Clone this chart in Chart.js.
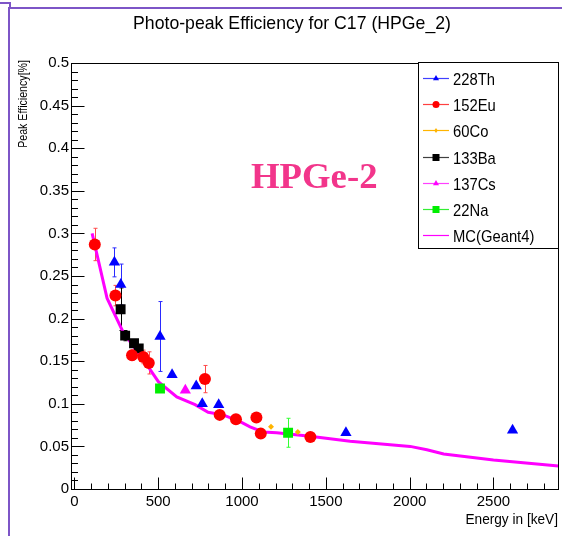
<!DOCTYPE html>
<html>
<head>
<meta charset="utf-8">
<script src="https://cdn.jsdelivr.net/npm/chart.js@4/dist/chart.umd.min.js"></script>
<style>
html, body { margin: 0; padding: 0; background: #fff; }
canvas { display: block; }
</style>
</head>
<body>
<canvas id="effCanvas" width="562" height="536"></canvas>
<script>
// 228Th
const thEnergy = [239, 277, 511, 583, 727, 763, 861, 1620, 2614];
const thEff = [0.266, 0.240, 0.179, 0.134, 0.121, 0.100, 0.099, 0.066, 0.069];
const thErr = [0.017, 0.024, 0.041, 0, 0, 0, 0, 0, 0];

// 152Eu
const euEnergy = [122, 245, 344, 411, 444, 779, 867, 964, 1086, 1112, 1408];
const euEff = [0.287, 0.227, 0.157, 0.155, 0.148, 0.129, 0.087, 0.082, 0.084, 0.065, 0.061];
const euErr = [0.019, 0.012, 0.006, 0.008, 0.013, 0.016, 0.004, 0.003, 0.003, 0.003, 0.003];

// 60Co
const coEnergy = [1173, 1333];
const coEff = [0.073, 0.067];

// 133Ba
const baEnergy = [276, 303, 356, 384];
const baEff = [0.211, 0.180, 0.171, 0.165];
const baErr = [0.025, 0.006, 0.004, 0.004];

// 137Cs
const csEnergy = [662];
const csEff = [0.116];

// 22Na
const naEnergy = [511, 1275];
const naEff = [0.118, 0.066];
const naErr = [0.003, 0.017];

// MC (Geant4)
const mcEnergy = [106, 195, 289, 361, 432, 501, 611, 720, 798, 887, 989, 1048, 1126, 1207, 1406, 1645, 2003, 2103, 2203, 2500, 2888];
const mcEff = [0.300, 0.224, 0.185, 0.165, 0.146, 0.126, 0.108, 0.099, 0.090, 0.087, 0.079, 0.073, 0.067, 0.066, 0.062, 0.056, 0.050, 0.046, 0.041, 0.034, 0.027];

// 目盛り
const xTicks = [0, 500, 1000, 1500, 2000, 2500];
const yTicks = [0, 0.05, 0.1, 0.15, 0.2, 0.25, 0.3, 0.35, 0.4, 0.45, 0.5];

const toPoints = (xs, ys) => xs.map((x, i) => ({ x: x, y: ys[i] }));

const series = [
  { label: '228Th', xs: thEnergy, ys: thEff, err: thErr, style: 'triangle', r: 6.5, color: '#0000ff', bar: '#2a2aff', line: '#4040ff' },
  { label: '152Eu', xs: euEnergy, ys: euEff, err: euErr, style: 'circle', r: 6, color: '#ff0000', bar: '#ff4a4a', line: '#ff4040' },
  { label: '60Co', xs: coEnergy, ys: coEff, err: null, style: 'rectRot', r: 3, color: '#ffb400', bar: '#ffb400', line: '#ffb400' },
  { label: '133Ba', xs: baEnergy, ys: baEff, err: baErr, style: 'rect', r: 7, color: '#000000', bar: '#000000', line: '#404040' },
  { label: '137Cs', xs: csEnergy, ys: csEff, err: null, style: 'triangle', r: 6.5, color: '#ff00ff', bar: '#ff00ff', line: '#ff40ff' },
  { label: '22Na', xs: naEnergy, ys: naEff, err: naErr, style: 'rect', r: 7, color: '#00ee00', bar: '#33ff33', line: '#33ee33' }
];

const datasets = series.map(s => ({
  label: s.label,
  data: toPoints(s.xs, s.ys),
  pointStyle: s.style,
  pointRadius: s.r,
  pointBackgroundColor: s.color,
  pointBorderColor: s.color,
  pointBorderWidth: 0,
  showLine: false,
  order: 1
}));

datasets.push({
  label: 'MC(Geant4)',
  data: toPoints(mcEnergy, mcEff),
  showLine: true,
  borderColor: '#ff00ff',
  borderWidth: 3,
  pointRadius: 0,
  tension: 0,
  order: 5
});

// 横方向に少し詰めた文字
function drawText(ctx, str, x, y, font, align, sx, color) {
  ctx.save();
  ctx.translate(x, y);
  ctx.scale(sx, 1);
  ctx.font = font;
  ctx.textAlign = align;
  ctx.textBaseline = 'alphabetic';
  ctx.fillStyle = color || '#000';
  ctx.fillText(str, 0, 0);
  ctx.restore();
}

function drawMarker(ctx, style, x, y, r, color) {
  ctx.save();
  ctx.fillStyle = color;
  ctx.beginPath();
  if (style === 'circle') {
    ctx.arc(x, y, r, 0, Math.PI * 2);
  } else if (style === 'triangle') {
    ctx.moveTo(x, y - r);
    ctx.lineTo(x + r * 0.866, y + r * 0.5);
    ctx.lineTo(x - r * 0.866, y + r * 0.5);
    ctx.closePath();
  } else if (style === 'rect') {
    ctx.rect(x - r, y - r, 2 * r, 2 * r);
  } else if (style === 'rectRot') {
    ctx.moveTo(x, y - r);
    ctx.lineTo(x + r * 0.7, y);
    ctx.lineTo(x, y + r);
    ctx.lineTo(x - r * 0.7, y);
    ctx.closePath();
  }
  ctx.fill();
  ctx.restore();
}

const errorBars = {
  id: 'errorBars',
  beforeDatasetsDraw(chart) {
    const ctx = chart.ctx;
    const xs = chart.scales.x, ys = chart.scales.y;
    ctx.save();
    ctx.lineWidth = 1;
    series.forEach(s => {
      if (!s.err) return;
      ctx.strokeStyle = s.bar;
      s.xs.forEach((e, i) => {
        if (!s.err[i]) return;
        const px = Math.round(xs.getPixelForValue(e)) + 0.5;
        const top = ys.getPixelForValue(s.ys[i] + s.err[i]);
        const bot = ys.getPixelForValue(s.ys[i] - s.err[i]);
        ctx.beginPath();
        ctx.moveTo(px, top); ctx.lineTo(px, bot);
        ctx.moveTo(px - 2, top); ctx.lineTo(px + 2, top);
        ctx.moveTo(px - 2, bot); ctx.lineTo(px + 2, bot);
        ctx.stroke();
      });
    });
    ctx.restore();
  }
};

const frameAndText = {
  id: 'frameAndText',
  afterDraw(chart) {
    const ctx = chart.ctx;
    const a = chart.chartArea;
    const xs = chart.scales.x, ys = chart.scales.y;
    ctx.save();

    // 枠
    ctx.strokeStyle = '#000';
    ctx.lineWidth = 1;
    const l = Math.round(a.left) + 0.5, r = Math.round(a.right) - 0.5;
    const t = Math.round(a.top) + 0.5, b = Math.round(a.bottom) + 0.5;
    ctx.strokeRect(l, t, r - l, b - t);

    // 内向きの目盛り
    ctx.beginPath();
    for (let v = 0; v <= 0.5001; v += 0.01) {
      const py = Math.round(ys.getPixelForValue(v)) + 0.5;
      const major = Math.abs(v / 0.05 - Math.round(v / 0.05)) < 1e-6;
      ctx.moveTo(l, py);
      ctx.lineTo(l + (major ? 13 : 6.5), py);
    }
    for (let v = 0; v <= 2888; v += 100) {
      const px = Math.round(xs.getPixelForValue(v)) + 0.5;
      const major = v % 500 === 0;
      ctx.moveTo(px, b);
      ctx.lineTo(px, b - (major ? 12 : 6));
    }
    ctx.stroke();

    // 紫の枠
    ctx.strokeStyle = '#7d55c7';
    ctx.lineWidth = 2;
    ctx.beginPath();
    ctx.moveTo(9, 536); ctx.lineTo(9, 8); ctx.lineTo(562, 8);
    ctx.moveTo(0, 3); ctx.lineTo(10, 3); ctx.lineTo(10, 8);
    ctx.stroke();

    // タイトル
    drawText(ctx, 'Photo-peak Efficiency for C17 (HPGe_2)', 292, 29, '19px "Liberation Sans", Arial, sans-serif', 'center', 0.93);

    // 軸タイトル
    drawText(ctx, 'Energy in [keV]', 558, 524, '15px "Liberation Sans", Arial, sans-serif', 'right', 0.91);
    ctx.save();
    ctx.translate(27, 60);
    ctx.rotate(-Math.PI / 2);
    drawText(ctx, 'Peak Efficiency[%]', 0, 0, '12.5px "Liberation Sans", Arial, sans-serif', 'right', 0.85);
    ctx.restore();

    // 注記
    drawText(ctx, 'HPGe-2', 251, 188, 'bold 35px "Liberation Serif", "Times New Roman", serif', 'left', 1.05, '#f2358b');

    // 凡例
    const lx = 418, ly = 62, lw = 140, lh = 186;
    ctx.fillStyle = '#fff';
    ctx.fillRect(lx, ly, lw, lh);
    ctx.strokeStyle = '#000';
    ctx.lineWidth = 1;
    ctx.strokeRect(lx + 0.5, ly + 0.5, lw, lh);
    const rows = series.map(s => ({ label: s.label, line: s.line, style: s.style, color: s.color, r: s.style === 'rectRot' ? 2.5 : 3.5 }));
    rows.push({ label: 'MC(Geant4)', line: '#ff00ff', style: null });
    rows.forEach((row, i) => {
      const yc = Math.round(78 + i * 26.2) + 0.5;
      ctx.strokeStyle = row.line;
      ctx.lineWidth = 1.2;
      ctx.beginPath();
      ctx.moveTo(423, yc);
      ctx.lineTo(449, yc);
      ctx.stroke();
      if (row.style) drawMarker(ctx, row.style, 436, yc, row.r, row.color);
      drawText(ctx, row.label, 453, yc + 6, '17px "Liberation Sans", Arial, sans-serif', 'left', 0.87);
    });

    ctx.restore();
  }
};

new Chart(document.getElementById('effCanvas'), {
  type: 'scatter',
  data: { datasets: datasets },
  options: {
    responsive: false,
    animation: false,
    layout: { autoPadding: false, padding: { top: 63, right: 3.5, left: 0, bottom: 0 } },
    plugins: {
      legend: { display: false },
      title: { display: false },
      tooltip: { enabled: false }
    },
    scales: {
      x: {
        type: 'linear',
        min: -20,
        max: 2888,
        grid: { display: false, drawTicks: false },
        border: { display: false },
        afterBuildTicks: s => { s.ticks = xTicks.map(v => ({ value: v })); },
        afterFit: s => { s.height = 47; s.paddingLeft = 0; s.paddingRight = 0; },
        ticks: {
          padding: 4,
          maxRotation: 0,
          color: '#000',
          font: { family: '"Liberation Sans", Arial, sans-serif', size: 15 },
          callback: v => String(v)
        }
      },
      y: {
        type: 'linear',
        min: 0,
        max: 0.5,
        grid: { display: false, drawTicks: false },
        border: { display: false },
        afterBuildTicks: s => { s.ticks = yTicks.map(v => ({ value: v })); },
        afterFit: s => { s.width = 71; s.paddingTop = 0; s.paddingBottom = 0; },
        ticks: {
          padding: 2,
          color: '#000',
          font: { family: '"Liberation Sans", Arial, sans-serif', size: 15 },
          callback: v => String(+v.toFixed(2))
        }
      }
    }
  },
  plugins: [errorBars, frameAndText]
});
</script>
</body>
</html>
